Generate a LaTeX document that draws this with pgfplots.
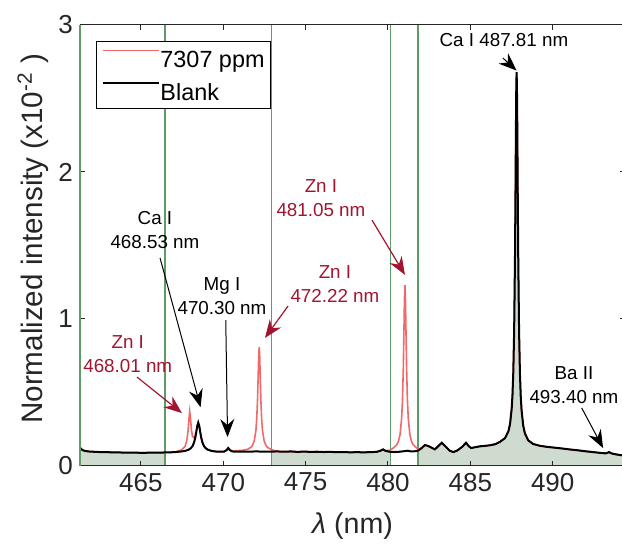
\documentclass[border=0pt]{standalone}
\usepackage{pgfplots}
\pgfplotsset{compat=1.18}
\usepackage{pgfplotstable}
\usepackage{fontspec}
\setmainfont{Liberation Sans}
\usetikzlibrary{arrows.meta}
\definecolor{zncol}{RGB}{162,20,47}
\definecolor{redline}{RGB}{242,105,105}
\definecolor{grline}{RGB}{95,155,105}
\definecolor{shade}{RGB}{208,219,208}
\definecolor{axgray}{RGB}{38,38,38}
\newcommand{\annfont}{\fontsize{9.4}{12}\selectfont}

\pgfplotstableread{
x y
461.30 0.125
461.40 0.112
461.55 0.104
461.80 0.099
462.10 0.097
462.50 0.095
462.90 0.094
463.30 0.093
463.70 0.092
464.10 0.091
464.50 0.091
464.90 0.090
465.30 0.090
465.70 0.091
466.10 0.091
466.45 0.092
466.80 0.093
467.10 0.095
467.48 0.099
467.68 0.103
467.88 0.110
468.03 0.121
468.13 0.135
468.23 0.161
468.30 0.193
468.36 0.231
468.42 0.273
468.48 0.295
468.54 0.273
468.60 0.231
468.66 0.193
468.73 0.161
468.83 0.135
468.93 0.121
469.08 0.110
469.28 0.103
469.48 0.099
469.80 0.097
470.05 0.098
470.20 0.108
470.30 0.122
470.40 0.108
470.55 0.099
470.80 0.097
471.20 0.097
471.60 0.098
472.00 0.099
472.40 0.098
472.70 0.097
472.92 0.098
473.30 0.099
473.70 0.097
474.10 0.099
474.50 0.096
474.90 0.098
475.30 0.096
475.70 0.097
476.10 0.095
476.50 0.096
476.90 0.094
477.30 0.095
477.70 0.093
478.10 0.094
478.50 0.093
478.90 0.094
479.30 0.096
479.55 0.104
479.70 0.113
479.85 0.103
480.14 0.096
480.40 0.095
480.70 0.097
481.00 0.101
481.20 0.104
481.40 0.099
481.60 0.100
481.82 0.104
482.00 0.118
482.25 0.143
482.50 0.133
482.85 0.113
483.05 0.135
483.26 0.158
483.50 0.132
483.75 0.104
483.97 0.095
484.20 0.105
484.50 0.130
484.74 0.158
484.90 0.135
485.05 0.122
485.30 0.128
485.60 0.134
485.90 0.137
486.20 0.141
486.50 0.148
486.81 0.165
487.11 0.190
487.31 0.235
487.41 0.285
487.51 0.390
487.56 0.485
487.61 0.645
487.66 0.920
487.71 1.410
487.74 1.840
487.77 2.330
487.79 2.580
487.81 2.680
487.83 2.570
487.85 2.320
487.88 1.830
487.91 1.400
487.96 0.910
488.01 0.635
488.06 0.475
488.11 0.380
488.21 0.275
488.31 0.223
488.51 0.175
488.81 0.150
489.20 0.138
489.60 0.131
490.00 0.126
490.50 0.120
491.00 0.113
491.50 0.107
492.00 0.100
492.50 0.094
492.90 0.089
493.20 0.086
493.33 0.090
493.42 0.095
493.52 0.088
493.70 0.082
494.00 0.076
494.40 0.070
}\blackdata

\pgfplotstableread{
x y
461.30 0.125
461.40 0.112
461.55 0.104
461.80 0.099
462.10 0.097
462.50 0.095
462.90 0.094
463.30 0.093
463.70 0.092
464.10 0.091
464.50 0.091
464.90 0.090
465.30 0.090
465.70 0.091
466.10 0.091
466.45 0.092
466.80 0.093
467.10 0.096
467.48 0.110
467.68 0.134
467.78 0.170
467.86 0.237
467.91 0.316
467.96 0.371
468.01 0.324
468.06 0.252
468.13 0.201
468.23 0.192
468.30 0.213
468.36 0.236
468.42 0.273
468.48 0.295
468.54 0.273
468.60 0.231
468.66 0.193
468.73 0.161
468.83 0.135
468.93 0.121
469.08 0.110
469.28 0.103
469.48 0.099
469.80 0.097
470.05 0.098
470.20 0.108
470.30 0.122
470.40 0.108
470.55 0.101
470.80 0.104
471.20 0.107
471.48 0.114
471.68 0.127
471.78 0.142
471.88 0.171
471.98 0.242
472.03 0.319
472.08 0.455
472.12 0.622
472.15 0.751
472.18 0.810
472.21 0.751
472.24 0.622
472.28 0.455
472.33 0.319
472.38 0.242
472.48 0.171
472.58 0.142
472.68 0.127
472.88 0.114
473.10 0.105
473.30 0.099
473.70 0.097
474.10 0.099
474.50 0.096
474.90 0.098
475.30 0.096
475.70 0.097
476.10 0.095
476.50 0.096
476.90 0.094
477.30 0.095
477.70 0.093
478.10 0.094
478.50 0.093
478.90 0.094
479.30 0.096
479.55 0.104
479.70 0.113
479.85 0.104
480.14 0.108
480.33 0.123
480.53 0.144
480.63 0.166
480.73 0.213
480.83 0.326
480.88 0.448
480.93 0.665
480.97 0.930
481.00 1.137
481.03 1.230
481.06 1.137
481.09 0.930
481.13 0.665
481.18 0.448
481.23 0.326
481.33 0.213
481.43 0.166
481.53 0.144
481.73 0.123
481.82 0.118
482.00 0.118
482.25 0.143
482.50 0.133
482.85 0.113
483.05 0.135
483.26 0.158
483.50 0.132
483.75 0.104
483.97 0.095
484.20 0.105
484.50 0.130
484.74 0.158
484.90 0.135
485.05 0.122
485.30 0.128
485.60 0.134
485.90 0.137
486.20 0.141
486.50 0.148
486.81 0.165
487.11 0.190
487.31 0.235
487.41 0.285
487.51 0.390
487.56 0.485
487.61 0.645
487.66 0.920
487.71 1.410
487.74 1.840
487.77 2.330
487.79 2.580
487.81 2.680
487.83 2.570
487.85 2.320
487.88 1.830
487.91 1.400
487.96 0.910
488.01 0.635
488.06 0.475
488.11 0.380
488.21 0.275
488.31 0.223
488.51 0.175
488.81 0.150
489.20 0.138
489.60 0.131
490.00 0.126
490.50 0.120
491.00 0.113
491.50 0.107
492.00 0.100
492.50 0.094
492.90 0.089
493.20 0.086
493.33 0.090
493.42 0.095
493.52 0.088
493.70 0.082
494.00 0.076
494.40 0.070
}\reddata

\begin{document}
\begin{tikzpicture}
\begin{axis}[
  scale only axis,
  width=272.58pt, height=220.5pt,
  xmin=461.3, xmax=494.4, ymin=0, ymax=3,
  xtick={465,470,475,480,485,490},
  ytick={0,1,2,3},
  tick align=inside,
  major tick length=2.5pt,
  axis on top,
  separate axis lines,
  axis line style={draw=axgray, line width=0.5pt},
  y axis line style={draw=grline, line width=0.8pt},
  every tick/.style={draw=axgray, line width=0.5pt},
  tick label style={font=\fontsize{13}{15}\selectfont, text=axgray},
  /pgf/number format/assume math mode=true,
  clip mode=individual,
  xlabel={{\itshape λ} (nm)},
  ylabel={Normalized intensity (x10\textsuperscript{-2} )},
  label style={font=\fontsize{14.3}{16}\selectfont, text=axgray},
  xlabel style={at={(axis description cs:0.5,0)}, anchor=center, yshift=-30pt},
  ylabel style={at={(axis description cs:-0.0862,0.515)}, anchor=center, font=\fontsize{14.8}{16}\selectfont},
  legend style={at={(axis description cs:0.0293,0.9637)}, anchor=north west,
    draw=black, line width=0.5pt, fill=white,
    font=\fontsize{11.7}{13}\selectfont,
    inner xsep=3pt, inner ysep=4pt, row sep=7.6pt,
    nodes={inner sep=0pt, text height=8.4pt, text depth=0pt},
    /tikz/every even column/.append style={column sep=2.5pt}},
  legend cell align=left,
  legend image code/.code={\draw[#1] (0pt,4.2pt) -- (28pt,4.2pt);},
]
% shaded windows under the blank spectrum
\addplot[draw=none, fill=shade, forget plot, restrict x to domain=461.2:466.451] table[x=x,y=y]{\blackdata} \closedcycle;
\addplot[draw=none, fill=shade, forget plot, restrict x to domain=472.919:480.141] table[x=x,y=y]{\blackdata} \closedcycle;
\addplot[draw=none, fill=shade, forget plot, restrict x to domain=481.819:494.5] table[x=x,y=y]{\blackdata} \closedcycle;
% green window limits
\addplot[grline, line width=0.7pt, forget plot] coordinates {(466.45,0) (466.45,3)};
\addplot[grline, line width=0.7pt, forget plot] coordinates {(472.92,0) (472.92,3)};
\addplot[grline, line width=0.7pt, forget plot] coordinates {(480.14,0) (480.14,3)};
\addplot[grline, line width=0.7pt, forget plot] coordinates {(481.82,0) (481.82,3)};
% spectra
\addplot[redline, line width=0.8pt] table[x=x,y=y]{\reddata};
\addlegendentry{7307 ppm}
\addplot[black, line width=1pt] table[x=x,y=y]{\blackdata};
\addlegendentry{Blank}

% annotations
\node[font=\annfont, text=black] at (axis cs:487.04,2.898) {Ca I 487.81 nm};
\draw[black, line width=0.5pt, -{Stealth[length=9pt,width=7pt,inset=3pt]}] (axis cs:486.98,2.775) -- (axis cs:487.81,2.69);

\node[font=\annfont, text=black, align=center] at (axis cs:465.85,1.605) {Ca I\\468.53 nm};
\draw[black, line width=0.5pt, -{Stealth[length=9pt,width=7pt,inset=3pt]}] (axis cs:466.16,1.415) -- (axis cs:468.62,0.40);

\node[font=\annfont, text=black, align=center] at (axis cs:469.92,1.153) {Mg I\\470.30 nm};
\draw[black, line width=0.5pt, -{Stealth[length=9pt,width=7pt,inset=3pt]}] (axis cs:470.15,0.993) -- (axis cs:470.26,0.197);

\node[font=\annfont, text=zncol, align=center] at (axis cs:464.2,0.762) {Zn I\\468.01 nm};
\draw[zncol, line width=0.6pt, -{Stealth[length=9pt,width=7pt,inset=3pt]}] (axis cs:464.76,0.605) -- (axis cs:467.49,0.36);

\node[font=\annfont, text=zncol, align=center] at (axis cs:476.78,1.241) {Zn I\\472.22 nm};
\draw[zncol, line width=0.6pt, -{Stealth[length=9pt,width=7pt,inset=3pt]}] (axis cs:473.93,1.088) -- (axis cs:472.53,0.871);

\node[font=\annfont, text=zncol, align=center] at (axis cs:475.93,1.823) {Zn I\\481.05 nm};
\draw[zncol, line width=0.6pt, -{Stealth[length=9pt,width=7pt,inset=3pt]}] (axis cs:479.03,1.673) -- (axis cs:481.03,1.30);

\node[font=\annfont, text=black, align=center] at (axis cs:491.29,0.551) {Ba II\\493.40 nm};
\draw[black, line width=0.5pt, -{Stealth[length=9pt,width=7pt,inset=3pt]}] (axis cs:491.76,0.395) -- (axis cs:493.06,0.122);
\end{axis}
\pgfresetboundingbox
\useasboundingbox ([shift={(-40pt,-39.5pt)}]current axis.south west) rectangle ([shift={(271pt,233pt)}]current axis.south west);
\end{tikzpicture}
\end{document}
